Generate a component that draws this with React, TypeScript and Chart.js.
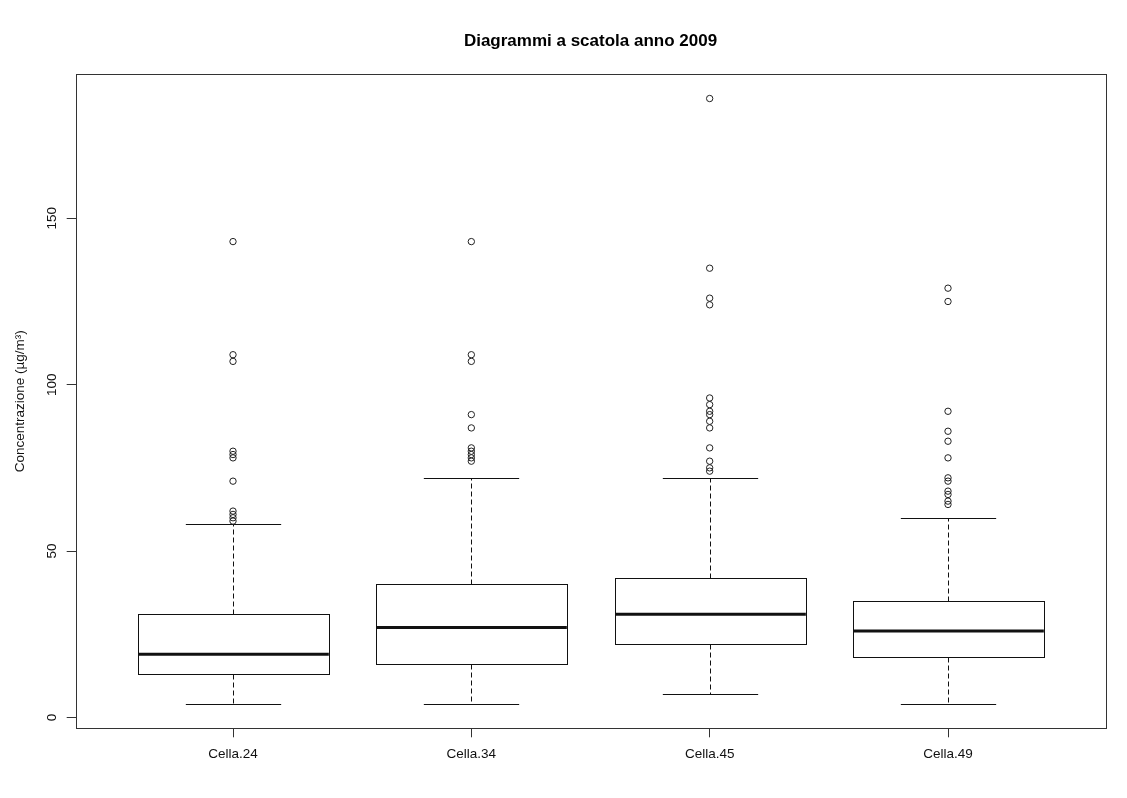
import React, { useEffect, useRef } from 'react';
import { Chart, registerables } from 'chart.js';

Chart.register(...registerables);

// Box-plot summary per cell (µg/m³)
const categories = ['Cella.24', 'Cella.34', 'Cella.45', 'Cella.49'];
const lowerWhisker = [4, 4, 7, 4];
const q1 = [13, 16, 22, 18];
const median = [19, 27, 31, 26];
const q3 = [31, 40, 42, 35];
const upperWhisker = [58, 72, 72, 60];

// Values beyond the whiskers
const outliers24 = [143, 109, 107, 80, 79, 78, 71, 62, 61, 60, 59];
const outliers34 = [143, 109, 107, 91, 87, 81, 80, 79, 78, 77];
const outliers45 = [186, 135, 126, 124, 96, 94, 92, 91, 89, 87, 81, 77, 75, 74];
const outliers49 = [129, 125, 92, 86, 83, 78, 72, 71, 68, 67, 65, 64];
const outlierGroups = [outliers24, outliers34, outliers45, outliers49];

const yTickValues = [0, 50, 100, 150];

const FONT = '"Liberation Sans", Arial, Helvetica, sans-serif';
const INK = '#111';
const BOX_HALF = 0.4;
const CAP_HALF = 0.2;

// Axis ranges extended by 4% like R's default
const allValues = [...lowerWhisker, ...upperWhisker, ...outlierGroups.flat()];
const yLo = Math.min(...allValues);
const yHi = Math.max(...allValues);
const yPad = (yHi - yLo) * 0.04;
const xPad = categories.length * 0.04;

const boxPlotPlugin = {
  id: 'boxPlot',
  beforeDatasetsDraw(chart: any) {
    const { ctx, chartArea, scales } = chart;
    const x = scales.x;
    const y = scales.y;
    ctx.save();

    // plot frame
    ctx.strokeStyle = '#333';
    ctx.lineWidth = 1;
    ctx.setLineDash([]);
    ctx.strokeRect(
      Math.round(chartArea.left) + 0.5,
      Math.round(chartArea.top) + 0.5,
      Math.round(chartArea.right - chartArea.left),
      Math.round(chartArea.bottom - chartArea.top)
    );

    categories.forEach((_, i) => {
      const cx = Math.round(x.getPixelForValue(i + 1)) + 0.5;
      const hw = x.getPixelForValue(i + 1 + BOX_HALF) - x.getPixelForValue(i + 1);
      const cw = x.getPixelForValue(i + 1 + CAP_HALF) - x.getPixelForValue(i + 1);
      const pLow = Math.round(y.getPixelForValue(lowerWhisker[i])) + 0.5;
      const pQ1 = Math.round(y.getPixelForValue(q1[i])) + 0.5;
      const pMed = y.getPixelForValue(median[i]);
      const pQ3 = Math.round(y.getPixelForValue(q3[i])) + 0.5;
      const pHigh = Math.round(y.getPixelForValue(upperWhisker[i])) + 0.5;

      ctx.strokeStyle = INK;
      ctx.lineWidth = 1;

      // dashed whiskers
      ctx.setLineDash([5, 3]);
      ctx.beginPath();
      ctx.moveTo(cx, pQ1);
      ctx.lineTo(cx, pLow);
      ctx.moveTo(cx, pQ3);
      ctx.lineTo(cx, pHigh);
      ctx.stroke();

      // whisker caps
      ctx.setLineDash([]);
      ctx.beginPath();
      ctx.moveTo(cx - cw, pLow);
      ctx.lineTo(cx + cw, pLow);
      ctx.moveTo(cx - cw, pHigh);
      ctx.lineTo(cx + cw, pHigh);
      ctx.stroke();

      // box
      ctx.fillStyle = '#fff';
      ctx.fillRect(cx - hw, pQ3, hw * 2, pQ1 - pQ3);
      ctx.strokeRect(Math.round(cx - hw) + 0.5, pQ3, Math.round(hw * 2), pQ1 - pQ3);

      // median
      ctx.lineWidth = 3;
      ctx.beginPath();
      ctx.moveTo(cx - hw, pMed);
      ctx.lineTo(cx + hw, pMed);
      ctx.stroke();
    });

    // rotated y tick labels
    ctx.fillStyle = INK;
    ctx.font = `13.5px ${FONT}`;
    ctx.textAlign = 'center';
    ctx.textBaseline = 'middle';
    y.ticks.forEach((t: any) => {
      const py = y.getPixelForValue(t.value);
      ctx.save();
      ctx.translate(chartArea.left - 23, py);
      ctx.rotate(-Math.PI / 2);
      ctx.fillText(String(t.value), 0, 0);
      ctx.restore();
    });

    ctx.restore();
  },
};

export default function App() {
  const canvasRef = useRef<HTMLCanvasElement | null>(null);

  useEffect(() => {
    if (!canvasRef.current) return;
    const datasets = outlierGroups.map((vals, i) => ({
      label: categories[i],
      data: vals.map((v) => ({ x: i + 1, y: v })),
      pointRadius: 3.2,
      pointHoverRadius: 3.2,
      pointBorderWidth: 1,
      pointBorderColor: '#222',
      pointBackgroundColor: 'rgba(0,0,0,0)',
      showLine: false,
    }));

    const chart = new Chart(canvasRef.current, {
      type: 'scatter',
      data: { datasets },
      plugins: [boxPlotPlugin],
      options: {
        animation: false,
        responsive: true,
        maintainAspectRatio: false,
        layout: { padding: { left: 0, right: 21.7, top: 0, bottom: 0 } },
        plugins: {
          legend: { display: false },
          tooltip: { enabled: false },
          title: {
            display: true,
            fullSize: false,
            text: 'Diagrammi a scatola anno 2009',
            color: '#000',
            font: { family: FONT, size: 17, weight: 'bold', lineHeight: 1.2 },
            padding: { top: 31, bottom: 22.9 },
          },
        },
        scales: {
          x: {
            type: 'linear',
            min: 0.5 - xPad,
            max: categories.length + 0.5 + xPad,
            afterBuildTicks: (scale: any) => {
              scale.ticks = categories.map((_, i) => ({ value: i + 1 }));
            },
            afterFit: (scale: any) => {
              scale.height = 69.7;
            },
            border: { display: false },
            grid: {
              drawOnChartArea: false,
              drawTicks: true,
              tickLength: 9,
              color: '#333',
            },
            ticks: {
              autoSkip: false,
              maxRotation: 0,
              minRotation: 0,
              padding: 9,
              color: INK,
              font: { family: FONT, size: 13.5 },
              callback: (_v: any, index: number) => categories[index],
            },
          },
          y: {
            type: 'linear',
            min: yLo - yPad,
            max: yHi + yPad,
            afterBuildTicks: (scale: any) => {
              scale.ticks = yTickValues.map((v) => ({ value: v }));
            },
            afterFit: (scale: any) => {
              scale.width = 75.7;
            },
            border: { display: false },
            grid: {
              drawOnChartArea: false,
              drawTicks: true,
              tickLength: 9,
              color: '#333',
            },
            ticks: { display: false },
            title: {
              display: true,
              text: 'Concentrazione (µg/m³)',
              color: INK,
              font: { family: FONT, size: 13.5, lineHeight: 1.2 },
              padding: { top: 12, bottom: 0 },
            },
          },
        },
      },
    });
    return () => chart.destroy();
  }, []);

  return (
    <div
      style={{
        position: 'absolute',
        left: 0,
        top: 0,
        width: 1127,
        height: 798,
        background: '#fff',
      }}
    >
      <canvas ref={canvasRef} />
    </div>
  );
}
